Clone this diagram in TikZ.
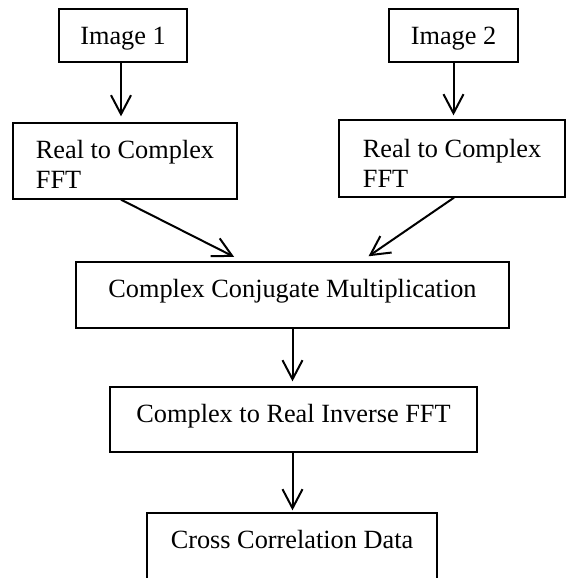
\documentclass[tikz,border=0pt]{standalone}
\usepackage{fontspec}
\setmainfont{Liberation Serif}
\usetikzlibrary{arrows.meta,calc}
\begin{document}
\begin{tikzpicture}[x=1pt,y=-1pt,
  box/.style={draw,line width=1.3pt,rectangle,inner sep=0pt,font=\fontsize{26.3}{30}\selectfont},
  arr/.style={line width=2pt,-{Straight Barb[length=19pt,width=20pt]}}]
\clip (0,0) rectangle (566,578);
\node[box,minimum width=128pt,minimum height=53pt,text height=24pt,text depth=5pt] (img1) at (123,35.5) {Image 1};
\node[box,minimum width=129pt,minimum height=53pt,text height=24pt,text depth=5pt] (img2) at (453.5,35.5) {Image 2};
\node[box,minimum width=224pt,minimum height=76pt,text height=58pt,text depth=4pt] (rtc1) at (125,161)
  {\begin{tabular}[b]{@{}l@{}}Real to Complex\\FFT\end{tabular}};
\node[box,minimum width=226pt,minimum height=77pt,text height=61pt,text depth=4pt] (rtc2) at (452,158.5)
  {\begin{tabular}[b]{@{}l@{}}Real to Complex\\FFT\end{tabular}};
\node[box,minimum width=433pt,minimum height=66pt,text height=9pt,text depth=5pt] (ccm) at (292.5,295) {Complex Conjugate Multiplication};
\node[box,minimum width=367pt,minimum height=65pt,text height=10pt,text depth=5pt] (cif) at (293.5,419.5) {Complex to Real Inverse FFT};
\node[box,minimum width=290pt,minimum height=67pt,text height=8pt,text depth=5pt] (ccd) at (292,546.5) {Cross Correlation Data};
\draw[arr,shorten >=6pt] ([xshift=-2pt]img1.south) -- ([xshift=-2pt]img1.south |- rtc1.north);
\draw[arr,shorten >=4pt] (img2.south) -- (img2.south |- rtc2.north);
\draw[arr,shorten >=10pt] ([xshift=-4pt]rtc1.south) -- ($(ccm.north west)!0.386!(ccm.north east)$);
\draw[arr,shorten >=9pt] ([xshift=2pt]rtc2.south) -- ($(ccm.north west)!0.658!(ccm.north east)$);
\draw[arr,shorten >=5pt] (ccm.south) -- (ccm.south |- cif.north);
\draw[arr,shorten >=2pt] (ccm.south |- cif.south) -- (ccm.south |- ccd.north);
\end{tikzpicture}
\end{document}
